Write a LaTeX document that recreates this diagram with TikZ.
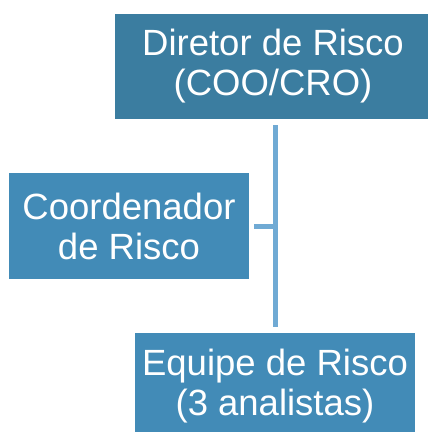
\documentclass[tikz,border=0pt]{standalone}
\usepackage{fontspec}
\setmainfont{Liberation Sans}
\usetikzlibrary{positioning}
\definecolor{topblue}{RGB}{59,125,160}
\definecolor{boxblue}{RGB}{66,139,183}
\definecolor{linkblue}{RGB}{112,170,212}
\tikzset{
	riskbox/.style={fill=boxblue, text=white, align=center, inner sep=0pt,
	font=\fontsize{36.5}{40}\selectfont}
}
\tikzset{
	link/.style={draw=linkblue, line width=5pt}
}

\begin{document}
\begin{tikzpicture}[x=1pt, y=1pt]

		% page frame
		\useasboundingbox (0,0) rectangle (428,-432);

		% boxes
		\node[riskbox, fill=topblue, minimum width=316pt, minimum height=105pt] (diretor) at (273,-66.5) {Diretor de Risco\\(COO/CRO)};
		\node[riskbox, minimum width=240pt, minimum height=106pt] (coordenador) at (129,-226) {Coordenador\\de Risco};
		\node[riskbox, minimum width=280pt, minimum height=106pt] (equipe) at (275,-386) {Equipe de Risco\\(3 analistas)};

		% connectors
		\coordinate (juncao) at (equipe.north |- coordenador.east);
		\draw[link] (equipe.north |- diretor.south) ++(0,-6) -- ([yshift=6pt]equipe.north);
		\draw[link] ([xshift=5pt]coordenador.east) -- (juncao);

	\end{tikzpicture}
\end{document}
